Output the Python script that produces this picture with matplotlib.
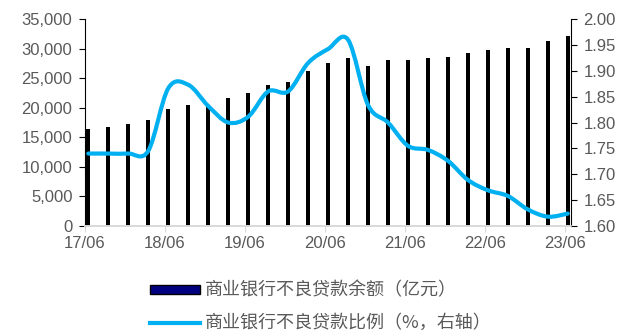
import matplotlib
matplotlib.use("Agg")
import matplotlib.pyplot as plt
import numpy as np
from matplotlib.lines import Line2D
from matplotlib.patches import Patch, PathPatch
from matplotlib.path import Path
from matplotlib.ticker import FuncFormatter

# quarterly data, 2017Q2 - 2023Q2
quarters = [
    "17/06", "17/09", "17/12", "18/03", "18/06", "18/09", "18/12", "19/03",
    "19/06", "19/09", "19/12", "20/03", "20/06", "20/09", "20/12", "21/03",
    "21/06", "21/09", "21/12", "22/03", "22/06", "22/09", "22/12", "23/03",
    "23/06",
]
npl_balance = [
    16450, 16790, 17190, 17870, 19740, 20470, 20250, 21710,
    22450, 23810, 24320, 26290, 27540, 28490, 27130, 28040,
    28040, 28490, 28660, 29290, 29680, 30080, 30030, 31320,
    32170,
]
npl_ratio = [
    1.74, 1.74, 1.74, 1.745, 1.866, 1.873, 1.832, 1.80,
    1.811, 1.86, 1.86, 1.915, 1.942, 1.96, 1.834, 1.80,
    1.755, 1.747, 1.726, 1.689, 1.669, 1.658, 1.632, 1.618,
    1.624,
]
tick_labels = ["17/06", "18/06", "19/06", "20/06", "21/06", "22/06", "23/06"]

bar_label = "商业银行不良贷款余额（亿元）"
line_label = "商业银行不良贷款比例（%，右轴）"

GRAY = "#595959"
BLUE = "#00B0F0"


def smooth_path(xs, ys, tension=1 / 6):
    # Catmull-Rom style cubic bezier through the points
    xs = np.asarray(xs, float)
    ys = np.asarray(ys, float)
    n = len(xs)
    verts = [(xs[0], ys[0])]
    codes = [Path.MOVETO]
    for i in range(n - 1):
        p0 = np.array([xs[max(i - 1, 0)], ys[max(i - 1, 0)]])
        p1 = np.array([xs[i], ys[i]])
        p2 = np.array([xs[i + 1], ys[i + 1]])
        p3 = np.array([xs[min(i + 2, n - 1)], ys[min(i + 2, n - 1)]])
        c1 = p1 + (p2 - p0) * tension
        c2 = p2 - (p3 - p1) * tension
        verts += [tuple(c1), tuple(c2), tuple(p2)]
        codes += [Path.CURVE4] * 3
    return Path(verts, codes)


plt.rcParams["font.family"] = ["Liberation Sans", "DejaVu Sans"]
plt.rcParams["font.size"] = 12

fig = plt.figure(figsize=(6.23, 3.36), dpi=100)
ax = fig.add_axes([0.1364, 0.3274, 0.78, 0.616])
ax2 = ax.twinx()

x = np.arange(len(quarters)) + 0.165
ax.bar(x, npl_balance, width=0.2, color="black", zorder=2)

path = smooth_path(x, npl_ratio)
ax2.add_patch(PathPatch(path, facecolor="none", edgecolor=BLUE, lw=3.0,
                        capstyle="round", joinstyle="round"))

ax.set_xlim(0, 24.32)
ax.set_ylim(0, 35000)
ax.set_yticks(np.arange(0, 35001, 5000))
ax.yaxis.set_major_formatter(FuncFormatter(lambda v, _: f"{v:,.0f}"))
ax2.set_ylim(1.60, 2.00)
ax2.set_yticks(np.arange(1.60, 2.001, 0.05))
ax2.yaxis.set_major_formatter(FuncFormatter(lambda v, _: f"{v:.2f}"))

ax.set_xticks(np.arange(0, 25, 4))
ax.set_xticklabels(tick_labels)

for a in (ax, ax2):
    a.spines["top"].set_visible(False)
    a.spines["bottom"].set_color("#D9D9D9")
    a.spines["bottom"].set_linewidth(1.2)
ax.spines["right"].set_visible(False)
ax2.spines["left"].set_visible(False)
ax.spines["left"].set_color("black")
ax2.spines["right"].set_color("black")

ax.tick_params(axis="y", colors="black", labelcolor=GRAY, length=4, pad=5)
ax2.tick_params(axis="y", colors="black", labelcolor=GRAY, length=4, pad=5)
ax.tick_params(axis="x", colors="#D9D9D9", labelcolor=GRAY, length=4, pad=3)

handles = [
    Patch(facecolor="#000080", edgecolor="black", linewidth=1.0),
    Line2D([], [], color=BLUE, lw=3.0),
]
fig.legend(handles, [bar_label, line_label], loc="upper left",
           bbox_to_anchor=(0.241, 0.162), frameon=False,
           prop={"family": ["Noto Sans CJK SC", "DejaVu Sans"], "size": 13},
           labelcolor=GRAY, handlelength=2.75, handleheight=0.38,
           handletextpad=0.3, labelspacing=0.8, borderaxespad=0,
           borderpad=0)

fig.savefig("out.png", dpi=100)
